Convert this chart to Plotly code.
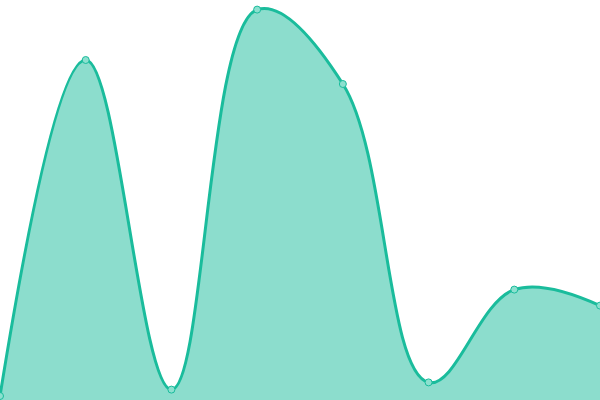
import plotly.graph_objects as go

# data
x_idx = [0, 1, 2, 3, 4, 5, 6, 7]
values = [1.0, 85.0, 2.6, 97.6, 79.0, 4.4, 27.6, 23.6]

line_color = "#1abc9c"

fig = go.Figure()
fig.add_trace(go.Scatter(
    x=x_idx, y=values,
    mode="lines+markers",
    line=dict(color=line_color, width=3, shape="spline", smoothing=1.1),
    fill="tozeroy",
    fillcolor="rgba(26,188,156,0.5)",
    marker=dict(size=7, color="rgba(140,224,207,1)", line=dict(color=line_color, width=1)),
    cliponaxis=False,
    hoverinfo="x+y",
))

fig.update_layout(
    width=600, height=400,
    margin=dict(l=0, r=0, t=0, b=0),
    paper_bgcolor="white",
    plot_bgcolor="white",
    showlegend=False,
    xaxis=dict(range=[0, 7], visible=False, fixedrange=True),
    yaxis=dict(range=[0, 100], visible=False, fixedrange=True),
)

# drop the page margin so the chart fills the window edge to edge
fig.write_html("out.html", config={"displayModeBar": False},
               post_script="document.body.style.margin='0';")
